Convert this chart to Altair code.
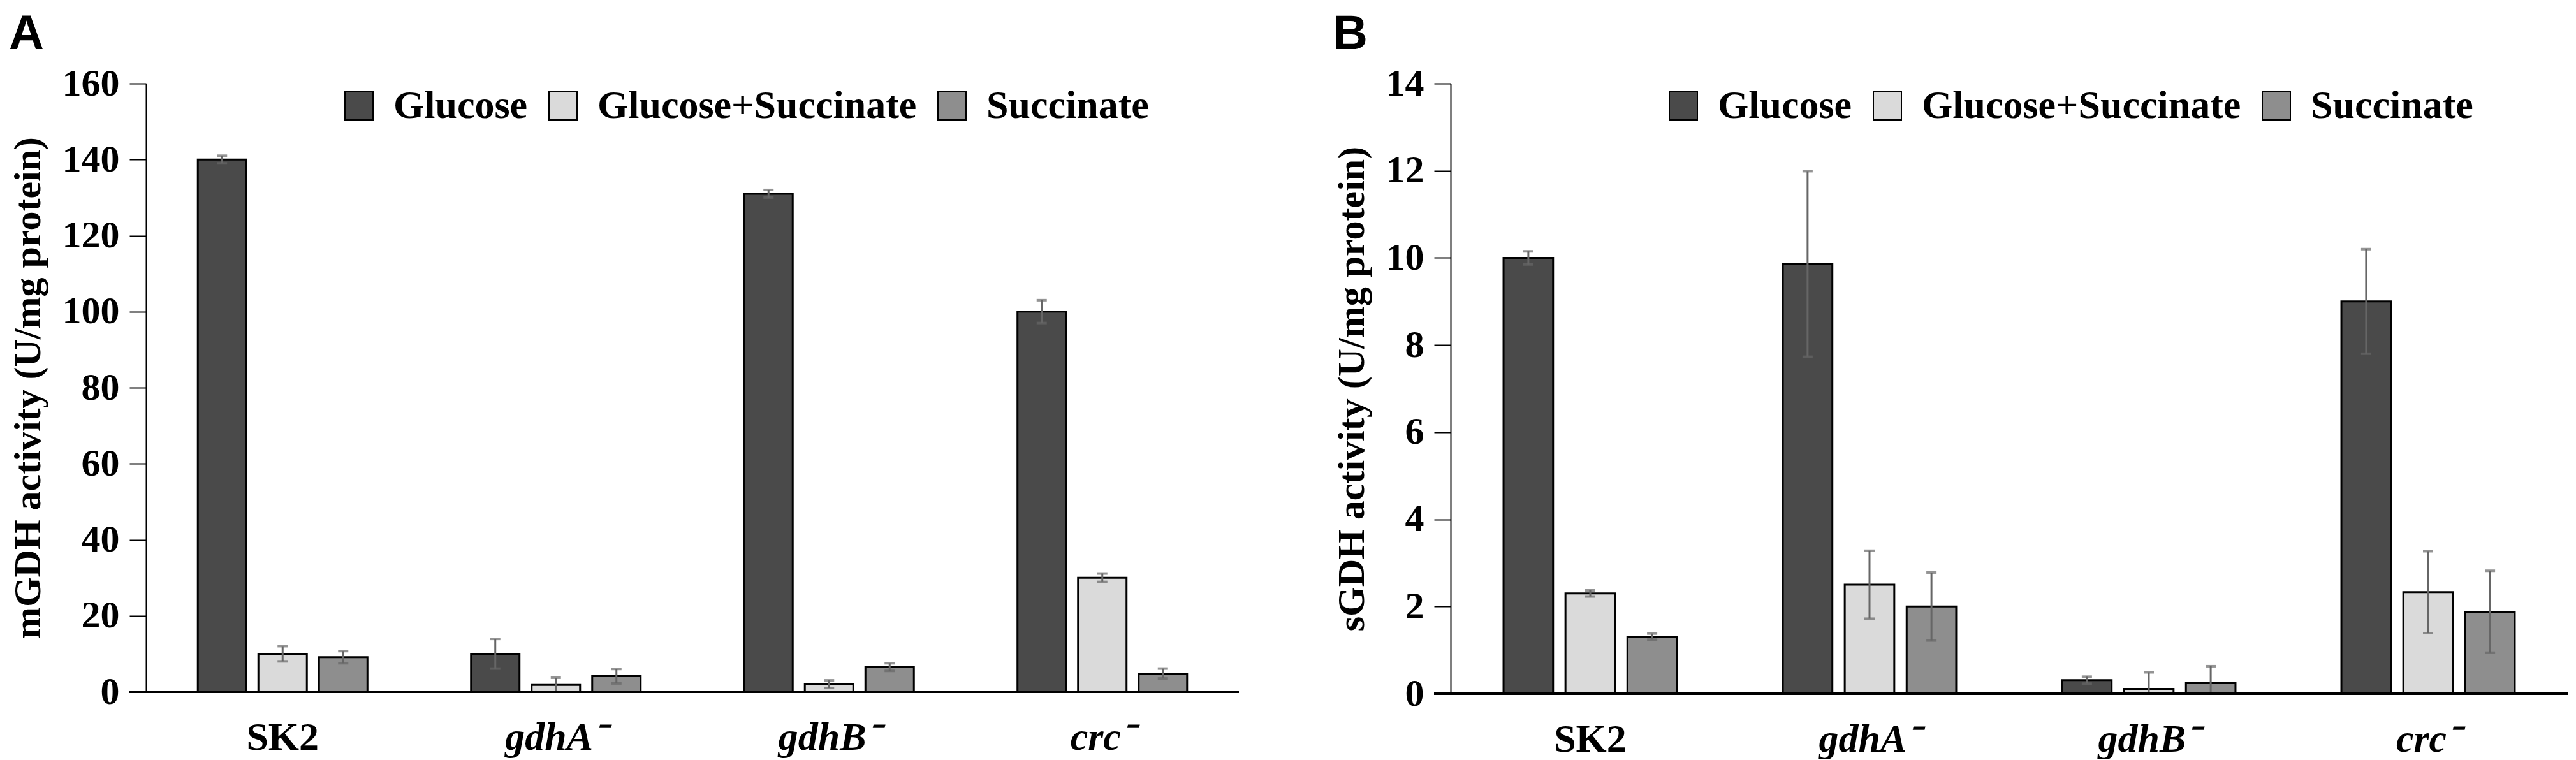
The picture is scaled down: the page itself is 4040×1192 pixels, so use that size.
import altair as alt
import pandas as pd

# ---------------- data ----------------
strains = ["SK2", "gdhA⁻", "gdhB⁻", "crc⁻"]
conditions = ["Glucose", "Glucose+Succinate", "Succinate"]

# Panel A: mGDH activity (U/mg protein)
mgdh_glucose = [140.0, 10.0, 131.0, 100.0]
mgdh_glucose_err = [1.0, 3.9, 1.0, 3.0]
mgdh_gs = [10.0, 1.8, 2.0, 30.0]
mgdh_gs_err = [2.0, 1.9, 1.0, 1.1]
mgdh_s = [9.1, 4.1, 6.5, 4.8]
mgdh_s_err = [1.6, 1.9, 1.0, 1.3]
ticks_a = [0, 20, 40, 60, 80, 100, 120, 140, 160]

# Panel B: sGDH activity (U/mg protein)
sgdh_glucose = [10.0, 9.86, 0.31, 9.0]
sgdh_glucose_err = [0.15, 2.13, 0.08, 1.2]
sgdh_gs = [2.3, 2.5, 0.11, 2.33]
sgdh_gs_err = [0.07, 0.78, 0.38, 0.94]
sgdh_s = [1.31, 2.0, 0.24, 1.88]
sgdh_s_err = [0.07, 0.78, 0.39, 0.94]
ticks_b = [0, 2, 4, 6, 8, 10, 12, 14]


def build(vals, errs):
    rows = []
    for cond, vl, el in zip(conditions, vals, errs):
        for s, v, e in zip(strains, vl, el):
            rows.append({"strain": s, "condition": cond, "value": v,
                         "lo": max(v - e, 0.0), "hi": v + e})
    return pd.DataFrame(rows)


df_a = build([mgdh_glucose, mgdh_gs, mgdh_s], [mgdh_glucose_err, mgdh_gs_err, mgdh_s_err])
df_b = build([sgdh_glucose, sgdh_gs, sgdh_s], [sgdh_glucose_err, sgdh_gs_err, sgdh_s_err])

SERIF = "Liberation Serif"
SANS = "Liberation Sans"
fills = ["#4a4a4a", "#dadada", "#8e8e8e"]
ERR = "#666666"


def panel(df, letter, ytitle, ticks, w, h, legend_x, legend_y, title_offset):
    ymax = ticks[-1]
    x_enc = alt.X(
        "strain:N", sort=strains,
        scale=alt.Scale(paddingInner=0, paddingOuter=0),
        axis=alt.Axis(
            title=None, domain=False, ticks=False, tickSize=0, labelAngle=0,
            labelFont=SERIF, labelFontSize=62, labelFontWeight="bold",
            labelColor="black", labelPadding=41, labelLimit=1000,
            labelFontStyle={"condition": {"test": "datum.value == 'SK2'", "value": "normal"},
                            "value": "italic"},
        ),
    )
    xo = alt.XOffset("condition:N", sort=conditions,
                     scale=alt.Scale(paddingInner=0.2, paddingOuter=0.855))
    y_axis = alt.Axis(
        title=ytitle, values=ticks, grid=False,
        tickSize=26, tickWidth=2, tickColor="black",
        domainColor="black", domainWidth=2,
        labelFont=SERIF, labelFontSize=60, labelFontWeight="bold",
        labelColor="black", labelPadding=16,
        titleFont=SERIF, titleFontSize=60, titleFontWeight="bold",
        titleColor="black", titlePadding=22,
    )
    yscale = alt.Scale(domain=[0, ymax], nice=False, zero=True)
    base = alt.Chart(df)

    bars = base.mark_bar(stroke="black", strokeWidth=3).encode(
        x=x_enc, xOffset=xo,
        y=alt.Y("value:Q", scale=yscale, axis=y_axis),
        color=alt.Color(
            "condition:N", sort=conditions,
            scale=alt.Scale(domain=conditions, range=fills),
            legend=alt.Legend(
                title=None, orient="none", legendX=legend_x, legendY=legend_y,
                direction="horizontal", symbolType="square", symbolSize=1936,
                symbolStrokeColor="black", symbolStrokeWidth=2, symbolOpacity=1,
                labelFont=SERIF, labelFontSize=62, labelFontWeight="bold",
                labelColor="black", labelOffset=23, columnPadding=24,
                labelLimit=1000, padding=0,
            ),
        ),
    )
    rules = base.mark_rule(color=ERR, strokeWidth=3).encode(
        x=x_enc, xOffset=xo,
        y=alt.Y("lo:Q", scale=yscale, axis=y_axis), y2="hi:Q",
    )
    cap_hi = base.mark_tick(color=ERR, thickness=4, size=16).encode(
        x=x_enc, xOffset=xo, y=alt.Y("hi:Q", scale=yscale, axis=y_axis),
    )
    cap_lo = base.mark_tick(color=ERR, thickness=4, size=16).encode(
        x=x_enc, xOffset=xo, y=alt.Y("lo:Q", scale=yscale, axis=y_axis),
    )
    baseline = base.mark_rule(color="black", strokeWidth=4).encode(
        x=alt.value(-26), x2=alt.value(w), y=alt.value(h),
    )
    return alt.layer(bars, rules, cap_hi, cap_lo, baseline).properties(
        width=w, height=h,
        title=alt.TitleParams(letter, anchor="start", frame="bounds",
                              font=SANS, fontSize=76, fontWeight="bold",
                              color="black", offset=title_offset),
    )


panel_a = panel(df_a, "A", "mGDH activity (U/mg protein)", ticks_a,
                1714, 954, 303, 4, 8)
panel_b = panel(df_b, "B", "sGDH activity (U/mg protein)", ticks_b,
                1752, 957, 334, 4, 8)

chart = (
    alt.hconcat(panel_a, panel_b, spacing=145)
    .resolve_scale(x="independent", y="independent", color="independent", xOffset="independent")
    .resolve_legend(color="independent")
    .properties(padding={"left": 6, "top": 8, "right": 0, "bottom": 0}, background="white")
    .configure_view(stroke=None)
)

chart.save("out.html", embed_options={"renderer": "svg", "actions": False})
